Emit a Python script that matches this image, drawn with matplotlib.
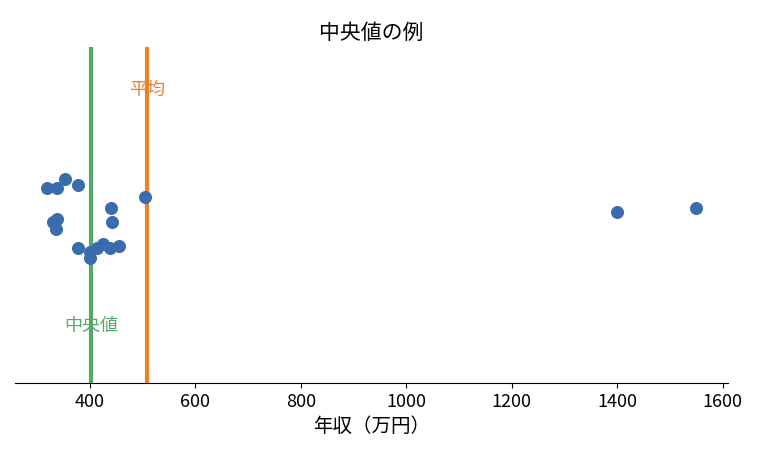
import matplotlib
matplotlib.use("Agg")
import matplotlib.pyplot as plt
import numpy as np

plt.rcParams['font.family'] = ['Noto Sans CJK JP', 'DejaVu Sans']

income = [318, 337, 353, 377, 330, 337, 336, 377, 400, 400, 413, 425, 438, 455, 440, 442, 504, 1399, 1549]
jitter = [0.58, 0.58, 0.607, 0.589, 0.479, 0.488, 0.458, 0.402, 0.39, 0.372, 0.402, 0.414, 0.402, 0.408, 0.521, 0.479, 0.554, 0.509, 0.521]
mean_v = 508
median_v = 402

fig = plt.figure(figsize=(7.64, 4.65), dpi=100)
ax = fig.add_axes([0.0196, 0.176, 0.933, 0.723])
ax.scatter(income, jitter, s=70, color='#3a6bad', zorder=3)
ax.axvline(mean_v, color='#e8822d', lw=3)
ax.axvline(median_v, color='#55a868', lw=3)
ax.text(mean_v, 0.872, '平均', color='#e8822d', ha='center', va='center', fontsize=13)
ax.text(median_v, 0.17, '中央値', color='#55a868', ha='center', va='center', fontsize=13)
ax.set_xlim(258, 1610)
ax.set_ylim(0, 1)
ax.set_yticks([])
for s in ['left', 'right', 'top']:
    ax.spines[s].set_visible(False)
ax.set_xticks([400, 600, 800, 1000, 1200, 1400, 1600])
ax.tick_params(axis='x', labelsize=13)
ax.set_xlabel('年収（万円）', fontsize=14)
ax.set_title('中央値の例', fontsize=15)
fig.savefig('out.png', dpi=100)
